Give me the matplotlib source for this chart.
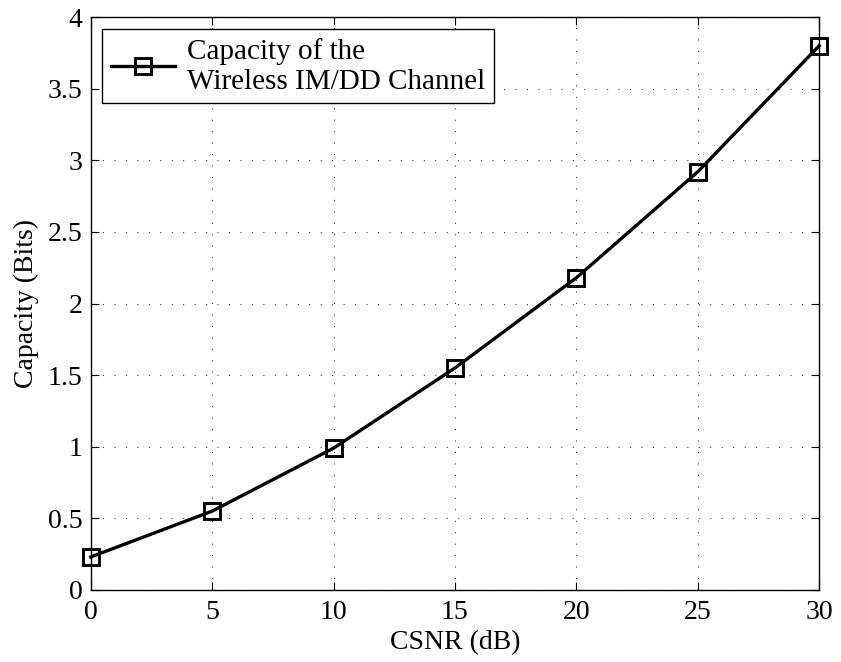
import numpy as np
import matplotlib
matplotlib.use("Agg")
import matplotlib.pyplot as plt

csnr_db = [0, 5, 10, 15, 20, 25, 30]
capacity = [0.23, 0.55, 0.99, 1.55, 2.18, 2.92, 3.80]
x_ticks = [0, 5, 10, 15, 20, 25, 30]
y_ticks = [0, 0.5, 1, 1.5, 2, 2.5, 3, 3.5, 4]
y_tick_labels = ["0", "0.5", "1", "1.5", "2", "2.5", "3", "3.5", "4"]

plt.rcParams["font.family"] = ["Liberation Serif", "DejaVu Serif"]

fig = plt.figure(figsize=(8.41, 6.62), dpi=100)
ax = fig.add_axes([0.108, 0.109, 0.866, 0.865])

ax.plot(csnr_db, capacity, color="black", linewidth=2.4, marker="s",
        markersize=12, markerfacecolor="none", markeredgewidth=2.1,
        markeredgecolor="black", clip_on=False, zorder=3,
        label="Capacity of the\nWireless IM/DD Channel")

ax.set_xlim(0, 30)
ax.set_ylim(0, 4)
ax.set_xticks(x_ticks)
ax.set_yticks(y_ticks)
ax.set_yticklabels(y_tick_labels)
ax.tick_params(direction="in", top=True, right=True, labelsize=20,
               length=6, width=0.8)
ax.tick_params(axis="x", pad=7)
ax.tick_params(axis="y", pad=6)
ax.grid(True, linestyle=(0, (1, 10)), color="black", linewidth=0.75, alpha=0.85)

ax.set_xlabel("CSNR (dB)", fontsize=20, labelpad=4)
ax.set_ylabel("Capacity (Bits)", fontsize=20, labelpad=6)

for s in ax.spines.values():
    s.set_linewidth(1.0)

leg = ax.legend(loc="upper left", fontsize=21, fancybox=False,
                edgecolor="black", framealpha=1, handlelength=2.2,
                borderaxespad=0.4, labelspacing=0.05, handletextpad=0.4,
                borderpad=0.3)
leg.get_frame().set_linewidth(1.0)

fig.savefig("out.png", dpi=100)
